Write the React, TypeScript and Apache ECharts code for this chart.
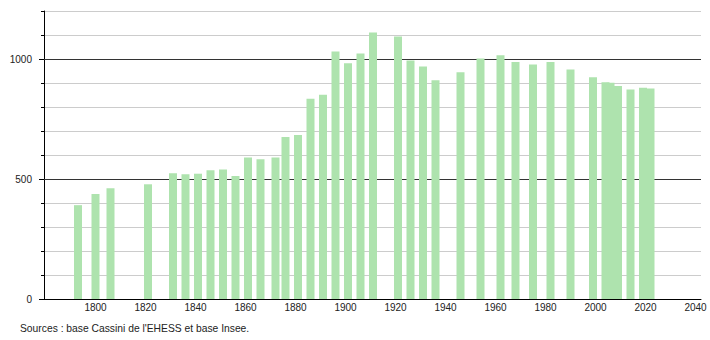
import React, { useEffect, useRef } from "react";
import * as echarts from "echarts";

const years = [
  1793, 1800, 1806, 1821, 1831, 1836, 1841, 1846, 1851, 1856, 1861, 1866,
  1872, 1876, 1881, 1886, 1891, 1896, 1901, 1906, 1911, 1921, 1926, 1931,
  1936, 1946, 1954, 1962, 1968, 1975, 1982, 1990, 1999, 2004, 2006, 2009,
  2014, 2019, 2022,
];
const population = [
  391, 437, 461, 478, 524, 520, 522, 536, 540, 513, 590, 582,
  590, 675, 683, 834, 851, 1031, 982, 1023, 1110, 1094, 994, 969,
  911, 945, 1002, 1016, 987, 977, 988, 956, 924, 903, 901, 887,
  873, 880, 877,
];
const xTickLabels = [1800, 1820, 1840, 1860, 1880, 1900, 1920, 1940, 1960, 1980, 2000, 2020, 2040];
const yTickLabels = [0, 500, 1000];
const sourceText = "Sources : base Cassini de l'EHESS et base Insee.";

const FONT = "'Liberation Sans', Arial, sans-serif";

export default function App() {
  const ref = useRef<HTMLDivElement>(null);
  useEffect(() => {
    document.body.style.margin = "0";
    if (!ref.current) return;
    const chart = echarts.init(ref.current, undefined, { renderer: "svg" });
    chart.setOption({
      animation: false,
      backgroundColor: "#ffffff",
      textStyle: { fontFamily: FONT },
      grid: { left: 44, right: 9, top: 11, bottom: 41 },
      xAxis: {
        type: "value",
        min: 1779.4,
        max: 2042.2,
        axisLine: { show: true, onZero: false, lineStyle: { color: "#000", width: 1 } },
        axisTick: { show: false },
        splitLine: { show: false },
        axisLabel: {
          customValues: xTickLabels,
          formatter: (v: number) => String(v),
          margin: 3,
          fontSize: 10,
          color: "#222",
          fontFamily: FONT,
        },
      },
      yAxis: [
        {
          type: "value",
          min: 0,
          max: 1200,
          interval: 100,
          z: 0,
          axisLine: { show: true, onZero: false, lineStyle: { color: "#000", width: 1 } },
          axisTick: { show: true, length: 3, lineStyle: { color: "#000" } },
          axisLabel: { show: false },
          splitLine: { show: true, lineStyle: { color: "#cccccc", width: 1 } },
        },
        {
          type: "value",
          min: 0,
          max: 1000,
          interval: 500,
          position: "left",
          z: 1,
          axisLine: { show: false },
          axisTick: { show: false },
          axisLabel: { show: false },
          splitLine: { show: false },
        },
        {
          type: "value",
          min: 0,
          max: 1200,
          interval: 100,
          position: "left",
          z: 2,
          axisLine: { show: false },
          axisTick: {
            show: true,
            customValues: yTickLabels,
            length: 5,
            lineStyle: { color: "#000" },
          },
          axisLabel: {
            customValues: yTickLabels,
            formatter: (v: number) => String(v),
            margin: 12,
            fontSize: 10,
            color: "#222",
            fontFamily: FONT,
          },
          splitLine: { show: false },
        },
      ],
      series: [
        {
          type: "bar",
          yAxisIndex: 0,
          z: 3,
          barWidth: 8,
          itemStyle: { color: "#aee3ae" },
          data: years.map((y, i) => [y, population[i]]),
          markLine: {
            silent: true,
            symbol: "none",
            z: 1,
            label: { show: false },
            lineStyle: { color: "#333333", width: 1, type: "solid" },
            data: [{ yAxis: 500 }, { yAxis: 1000 }],
          },
        },
      ],
      graphic: [
        {
          type: "text",
          left: 20,
          top: 323,
          style: {
            text: sourceText,
            fontSize: 10.3,
            fill: "#222",
            fontFamily: FONT,
          },
        },
      ],
    });
    return () => chart.dispose();
  }, []);
  return <div ref={ref} style={{ width: 710, height: 340 }} />;
}
